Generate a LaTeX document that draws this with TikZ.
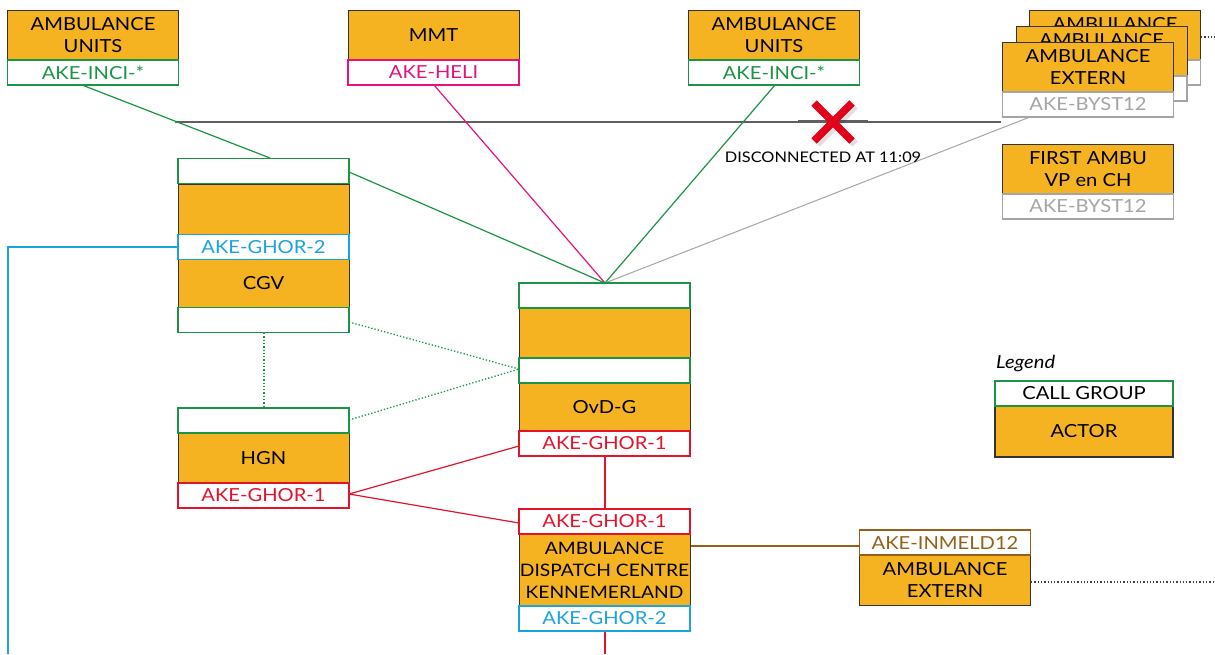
\documentclass[tikz,border=0pt]{standalone}
\usepackage{fontspec}
\setmainfont{Lato}[FakeStretch=1.12]
\usetikzlibrary{calc}
\definecolor{actorC}{HTML}{F6B321}
\definecolor{cgGreen}{HTML}{1B9446}
\definecolor{cgMag}{HTML}{E5127D}
\definecolor{cgRed}{HTML}{E3132C}
\definecolor{cgBlue}{HTML}{1CA3DE}
\definecolor{cgBrown}{HTML}{96601A}
\definecolor{cgGray}{HTML}{A5A5A5}
\definecolor{linkGray}{HTML}{5F5F5F}
\definecolor{crossRed}{HTML}{E2001A}
\newcommand{\boxfont}{\fontsize{18}{22}\selectfont}
\begin{document}
\begin{tikzpicture}[x=1pt,y=-1pt,
  actor/.style={draw=black!80, fill=actorC, line width=1pt, minimum width=171,
    inner sep=0pt, align=center, font=\boxfont, text=black},
  cg/.style={draw=#1, fill=white, text=#1, line width=1.3pt, minimum width=171,
    minimum height=25, inner sep=0pt, font=\boxfont},
  link/.style={line width=1.2pt},
  dotlink/.style={line width=1.3pt, dotted, cgGreen},
]
\useasboundingbox (0,0) rectangle (1215,654);

% ---------- coordinates for free line ends ----------
\coordinate (busL) at (175,122);
\coordinate (busR) at (1001,122);
\coordinate (blueCorner) at (8,247);
\coordinate (blueEnd) at (8,654);
\coordinate (redEnd) at (605,654);
\coordinate (extDotEnd) at (1215,582);
\coordinate (backDotEnd) at (1215,37);

% ---------- connectors (drawn first, boxes go on top) ----------
\draw[link, linkGray] (busL) -- (busR);
\draw[line width=2.2pt, linkGray] (798,121.5) -- (868,121.5);

\draw[link, cgGreen] (82,85) -- (270,158);
\draw[link, cgGreen] (349,172) -- (605,283);
\draw[link, cgMag] (434,85) -- (605,283);
\draw[link, cgGreen] (775,85) -- (605,283);
\draw[line width=1pt, cgGray] (1030,117) -- (605,283);

\draw[dotlink] (264,333) -- (264,408);
\draw[dotlink] (349,322) -- (519,369);
\draw[dotlink] (349,420) -- (519,369);

\draw[link, cgBlue] (178,247) -- (blueCorner) -- (blueEnd);

\draw[link, cgRed] (519,446) -- (349,494) -- (519,523);
\draw[link, cgRed] (605,456) -- (605,509);
\draw[link, cgRed] (605,631) -- (redEnd);

\draw[link, cgBrown] (690,546) -- (859,546);
\draw[line width=1.3pt, dotted, black!75] (1031,582) -- (extDotEnd);
\draw[line width=1.3pt, dotted, black!75] (1201,37) -- (backDotEnd);

% ---------- top row ----------
\node[actor, minimum height=50] (unitsA) at (93,35) {AMBULANCE\\UNITS};
\node[cg=cgGreen] (unitsAl) at (93,72.5) {AKE-INCI-*};

\node[actor, minimum height=50] (mmt) at (433.5,35) {MMT};
\node[cg=cgMag] (mmtl) at (433.5,72.5) {AKE-HELI};

\node[actor, minimum height=50] (unitsB) at (774,35) {AMBULANCE\\UNITS};
\node[cg=cgGreen] (unitsBl) at (774,72.5) {AKE-INCI-*};

% stacked external ambulances (back to front)
\node[actor, minimum height=50] (extC) at (1115,35) {AMBULANCE\\EXTERN};
\node[cg=cgGray] (extCl) at (1115,72.5) {AKE-BYST12};
\node[actor, minimum height=50] (extB) at (1101.5,51) {AMBULANCE\\EXTERN};
\node[cg=cgGray] (extBl) at (1101.5,88.5) {AKE-BYST12};
\node[actor, minimum height=50] (extA) at (1088,67) {AMBULANCE\\EXTERN};
\node[cg=cgGray] (extAl) at (1088,104.5) {AKE-BYST12};

\node[actor, minimum height=50] (first) at (1088,169) {FIRST AMBU\\VP en CH};
\node[cg=cgGray] (firstl) at (1088,206.5) {AKE-BYST12};

% ---------- disconnection mark ----------
\draw[line width=7.5pt, black, opacity=0.12] (817,106) -- (855,144) (855,106) -- (817,144);
\draw[line width=7.5pt, crossRed] (814,103) -- (852,141) (852,103) -- (814,141);
\node[font=\fontsize{14.6}{17}\selectfont, inner sep=0pt] (disc) at (823,157) {DISCONNECTED AT 11:09};

% ---------- CGV ----------
\node[actor, minimum height=51] (cgvA) at (263.5,209.5) {};
\node[actor, minimum height=48] (cgv) at (263.5,283.5) {CGV};
\node[cg=cgGreen] (cgvTop) at (263.5,171) {};
\node[cg=cgBlue] (cgvl) at (263.5,247) {AKE-GHOR-2};
\node[cg=cgGreen] (cgvBot) at (263.5,320) {};

% ---------- HGN ----------
\node[actor, minimum height=50] (hgn) at (263.5,458) {HGN};
\node[cg=cgGreen] (hgnTop) at (263.5,420.5) {};
\node[cg=cgRed] (hgnl) at (263.5,495.5) {AKE-GHOR-1};

% ---------- OvD-G ----------
\node[actor, minimum height=50] (ovdA) at (604.5,333) {};
\node[actor, minimum height=48] (ovd) at (604.5,407) {OvD-G};
\node[cg=cgGreen] (ovdTop) at (604.5,295.5) {};
\node[cg=cgGreen] (ovdMid) at (604.5,370.5) {};
\node[cg=cgRed] (ovdl) at (604.5,443.5) {AKE-GHOR-1};

% ---------- dispatch centre ----------
\node[actor, minimum height=72, font=\fontsize{17.2}{22}\selectfont] (adc) at (604.5,570) {AMBULANCE\\DISPATCH CENTRE\\KENNEMERLAND};
\node[cg=cgRed] (adcTop) at (604.5,521.5) {AKE-GHOR-1};
\node[cg=cgBlue] (adcBot) at (604.5,618.5) {AKE-GHOR-2};

% ---------- external ambulance (incoming) ----------
\node[actor, minimum height=50] (extIn) at (945,580) {AMBULANCE\\EXTERN};
\node[cg=cgBrown] (extInl) at (945,542.5) {AKE-INMELD12};

% ---------- legend ----------
\node[anchor=west, font=\fontsize{18}{21}\selectfont\itshape, inner sep=0pt] (legT) at (996,364) {Legend};
\node[actor, minimum width=178, minimum height=51, line width=1.3pt] (legA) at (1084,431.5) {ACTOR};
\node[cg=cgGreen, minimum width=178] (legC) at (1084,393.5) {\textcolor{black}{CALL GROUP}};
\end{tikzpicture}
\end{document}
